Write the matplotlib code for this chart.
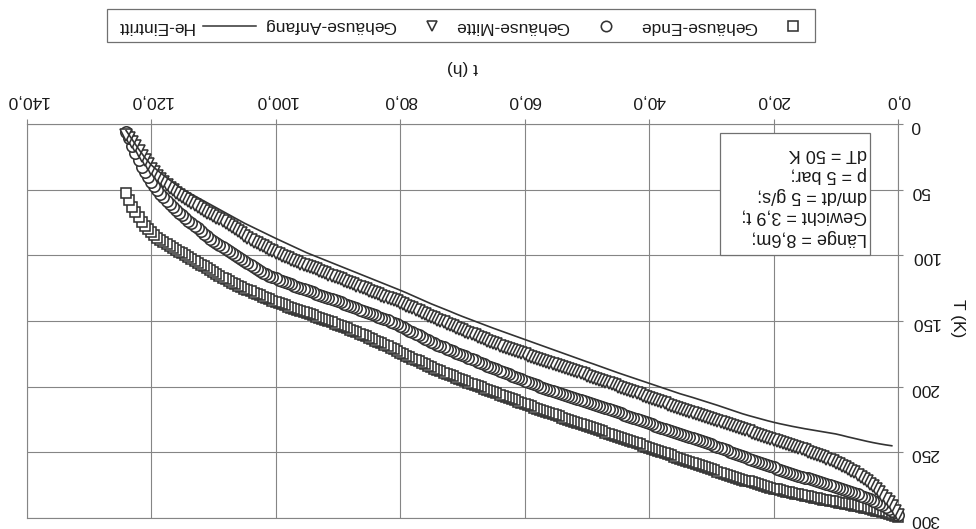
import matplotlib
matplotlib.use("Agg")
import matplotlib.pyplot as plt
from matplotlib.lines import Line2D
from matplotlib.patches import Rectangle

plt.rcParams['font.family'] = ['Liberation Sans', 'DejaVu Sans']

# ---------------- data (chart is shown rotated by 180 degrees) ----------------
t_hours = [0, 0.5, 1, 1.5, 2, 2.5, 3, 3.5, 4, 4.5,
           5, 5.5, 6, 6.5, 7, 7.5, 8, 8.5, 9, 9.5,
           10, 10.5, 11, 11.5, 12, 12.5, 13, 13.5, 14, 14.5,
           15, 15.5, 16, 16.5, 17, 17.5, 18, 18.5, 19, 19.5,
           20, 20.5, 21, 21.5, 22, 22.5, 23, 23.5, 24, 24.5,
           25, 25.5, 26, 26.5, 27, 27.5, 28, 28.5, 29, 29.5,
           30, 30.5, 31, 31.5, 32, 32.5, 33, 33.5, 34, 34.5,
           35, 35.5, 36, 36.5, 37, 37.5, 38, 38.5, 39, 39.5,
           40, 40.5, 41, 41.5, 42, 42.5, 43, 43.5, 44, 44.5,
           45, 45.5, 46, 46.5, 47, 47.5, 48, 48.5, 49, 49.5,
           50, 50.5, 51, 51.5, 52, 52.5, 53, 53.5, 54, 54.5,
           55, 55.5, 56, 56.5, 57, 57.5, 58, 58.5, 59, 59.5,
           60, 60.5, 61, 61.5, 62, 62.5, 63, 63.5, 64, 64.5,
           65, 65.5, 66, 66.5, 67, 67.5, 68, 68.5, 69, 69.5,
           70, 70.5, 71, 71.5, 72, 72.5, 73, 73.5, 74, 74.5,
           75, 75.5, 76, 76.5, 77, 77.5, 78, 78.5, 79, 79.5,
           80, 80.5, 81, 81.5, 82, 82.5, 83, 83.5, 84, 84.5,
           85, 85.5, 86, 86.5, 87, 87.5, 88, 88.5, 89, 89.5,
           90, 90.5, 91, 91.5, 92, 92.5, 93, 93.5, 94, 94.5,
           95, 95.5, 96, 96.5, 97, 97.5, 98, 98.5, 99, 99.5,
           100, 100.5, 101, 101.5, 102, 102.5, 103, 103.5, 104, 104.5,
           105, 105.5, 106, 106.5, 107, 107.5, 108, 108.5, 109, 109.5,
           110, 110.5, 111, 111.5, 112, 112.5, 113, 113.5, 114, 114.5,
           115, 115.5, 116, 116.5, 117, 117.5, 118, 118.5, 119, 119.5,
           120, 120.5, 121, 121.5, 122, 122.5, 123, 123.5, 124]

T_gehaeuse_ende = [299, 298.3, 297.6, 296.9, 296.2, 295.5, 294.9, 294.3, 293.7, 293.1,
                   292.6, 292.1, 291.6, 291.1, 290.6, 290.1, 289.6, 289.1, 288.7, 288.2,
                   287.8, 287.3, 286.9, 286.4, 286.0, 285.5, 285.0, 284.5, 284.0, 283.5,
                   283.0, 282.5, 282.0, 281.5, 281.0, 280.4, 279.9, 279.3, 278.8, 278.2,
                   277.6, 276.9, 276.3, 275.6, 275.0, 274.3, 273.6, 272.9, 272.2, 271.5,
                   270.8, 270.0, 269.3, 268.5, 267.8, 267.0, 266.2, 265.4, 264.6, 263.8,
                   263.0, 262.2, 261.4, 260.6, 259.8, 258.9, 258.1, 257.2, 256.4, 255.6,
                   254.8, 254.0, 253.2, 252.3, 251.5, 250.6, 249.8, 248.9, 248.1, 247.2,
                   246.4, 245.6, 244.8, 243.9, 243.1, 242.3, 241.5, 240.6, 239.8, 239.0,
                   238.2, 237.3, 236.5, 235.7, 234.9, 234.1, 233.3, 232.5, 231.7, 230.9,
                   230.1, 229.3, 228.5, 227.7, 226.9, 226.1, 225.3, 224.4, 223.6, 222.7,
                   221.9, 221.0, 220.2, 219.3, 218.5, 217.6, 216.8, 215.9, 215.0, 214.1,
                   213.2, 212.3, 211.4, 210.5, 209.6, 208.7, 207.8, 206.9, 206.0, 205.1,
                   204.2, 203.3, 202.4, 201.5, 200.6, 199.7, 198.8, 197.9, 197.0, 196.0,
                   195.1, 194.1, 193.2, 192.2, 191.3, 190.3, 189.3, 188.3, 187.3, 186.2,
                   185.2, 184.1, 183.0, 181.9, 180.8, 179.7, 178.6, 177.4, 176.3, 175.1,
                   174.0, 172.8, 171.7, 170.5, 169.4, 168.2, 167.1, 166.0, 164.9, 163.8,
                   162.8, 161.7, 160.7, 159.7, 158.7, 157.7, 156.7, 155.7, 154.8, 153.8,
                   152.9, 152.0, 151.1, 150.2, 149.3, 148.4, 147.5, 146.6, 145.8, 144.9,
                   144.1, 143.2, 142.4, 141.5, 140.7, 139.8, 139.0, 138.1, 137.2, 136.3,
                   135.4, 134.4, 133.5, 132.5, 131.5, 130.5, 129.5, 128.5, 127.5, 126.4,
                   125.4, 124.3, 123.2, 122.0, 120.9, 119.6, 118.4, 117.1, 115.8, 114.4,
                   113.0, 111.5, 110.0, 108.5, 107.0, 105.5, 104.0, 102.6, 101.2, 99.8,
                   98.5, 97.1, 95.8, 94.4, 93.0, 91.5, 90.0, 88.3, 86.6, 84.6,
                   82.5, 80.0, 77.5, 74.3, 71.0, 67.0, 63.0, 58.0, 52.5]

T_gehaeuse_mitte = [297.5, 295.8, 294.3, 292.9, 291.5, 290.2, 289.0, 287.9, 286.8, 285.8,
                    284.8, 283.8, 282.9, 282.0, 281.1, 280.2, 279.4, 278.6, 277.8, 277.0,
                    276.3, 275.5, 274.8, 274.1, 273.4, 272.7, 272.0, 271.3, 270.6, 269.9,
                    269.2, 268.5, 267.8, 267.0, 266.3, 265.5, 264.8, 264.0, 263.2, 262.4,
                    261.5, 260.6, 259.8, 259.0, 258.1, 257.2, 256.4, 255.5, 254.7, 253.8,
                    253.0, 252.1, 251.2, 250.3, 249.4, 248.5, 247.6, 246.7, 245.8, 244.9,
                    244.0, 243.2, 242.4, 241.6, 240.8, 240.0, 239.2, 238.4, 237.6, 236.8,
                    236.0, 235.2, 234.4, 233.6, 232.8, 232.0, 231.2, 230.4, 229.6, 228.8,
                    228.0, 227.1, 226.3, 225.4, 224.6, 223.7, 222.9, 222.0, 221.2, 220.3,
                    219.5, 218.7, 217.9, 217.1, 216.3, 215.5, 214.7, 213.9, 213.1, 212.3,
                    211.5, 210.7, 210.0, 209.2, 208.5, 207.7, 207.0, 206.2, 205.5, 204.7,
                    204.0, 203.2, 202.4, 201.6, 200.8, 199.9, 199.1, 198.2, 197.3, 196.4,
                    195.5, 194.5, 193.6, 192.6, 191.7, 190.7, 189.8, 188.8, 187.9, 186.9,
                    186.0, 185.0, 184.0, 183.0, 182.0, 181.0, 180.0, 179.0, 178.0, 177.0,
                    176.0, 175.0, 174.0, 173.0, 172.0, 171.0, 170.0, 169.0, 168.0, 167.0,
                    166.0, 164.8, 163.5, 162.3, 161.0, 159.8, 158.5, 157.3, 156.0, 154.8,
                    153.5, 152.5, 151.5, 150.5, 149.5, 148.5, 147.5, 146.6, 145.7, 144.8,
                    144.0, 143.1, 142.2, 141.3, 140.4, 139.5, 138.6, 137.7, 136.8, 135.9,
                    135.0, 134.2, 133.3, 132.5, 131.6, 130.8, 129.9, 129.1, 128.2, 127.4,
                    126.5, 125.6, 124.7, 123.9, 123.0, 122.1, 121.2, 120.3, 119.4, 118.5,
                    117.5, 116.5, 115.5, 114.4, 113.2, 111.9, 110.5, 109.1, 107.7, 106.2,
                    104.6, 103.0, 101.3, 99.8, 98.2, 96.7, 95.2, 93.7, 92.2, 90.7,
                    89.1, 87.3, 85.5, 83.5, 81.5, 79.5, 77.5, 75.5, 73.5, 71.5,
                    69.5, 67.4, 65.3, 63.1, 60.8, 58.4, 55.8, 53.1, 50.3, 47.4,
                    44.2, 40.7, 36.8, 32.4, 27.5, 22.2, 16.5, 11.0, 6.0]

T_gehaeuse_anfang = [298, 294.3, 291, 288.1, 285.5, 282.9, 280.5, 278.2, 276, 274,
                     272, 270.2, 268.5, 266.9, 265.3, 263.9, 262.5, 261.3, 260.2, 259.1,
                     258, 256.9, 255.8, 254.8, 253.8, 252.9, 252, 251.1, 250.3, 249.4,
                     248.6, 247.7, 246.9, 246.1, 245.3, 244.5, 243.7, 242.9, 242.1, 241.3,
                     240.5, 239.7, 238.9, 238.1, 237.3, 236.5, 235.7, 234.9, 234.1, 233.3,
                     232.5, 231.7, 230.9, 230.1, 229.3, 228.5, 227.7, 226.9, 226.1, 225.3,
                     224.5, 223.7, 223.0, 222.2, 221.5, 220.7, 220.0, 219.2, 218.5, 217.7,
                     217.0, 216.1, 215.3, 214.4, 213.6, 212.7, 211.9, 211.0, 210.2, 209.3,
                     208.5, 207.6, 206.8, 205.9, 205.1, 204.2, 203.4, 202.5, 201.7, 200.8,
                     200.0, 199.1, 198.3, 197.4, 196.6, 195.7, 194.9, 194.0, 193.2, 192.3,
                     191.5, 190.7, 189.9, 189.1, 188.3, 187.5, 186.7, 185.9, 185.1, 184.3,
                     183.5, 182.7, 181.9, 181.1, 180.3, 179.5, 178.7, 177.9, 177.1, 176.3,
                     175.5, 174.6, 173.8, 172.9, 172.1, 171.2, 170.4, 169.5, 168.7, 167.8,
                     167.0, 166.0, 165.0, 164.0, 163.0, 162.0, 161.0, 160.0, 159.0, 158.0,
                     157.0, 156.0, 155.0, 154.0, 153.0, 152.0, 151.0, 150.0, 149.0, 148.0,
                     147.0, 145.9, 144.8, 143.7, 142.6, 141.5, 140.4, 139.3, 138.2, 137.1,
                     136.0, 135.1, 134.2, 133.3, 132.4, 131.5, 130.6, 129.7, 128.8, 127.9,
                     127.0, 126.0, 125.1, 124.1, 123.2, 122.2, 121.3, 120.3, 119.4, 118.4,
                     117.5, 116.5, 115.6, 114.6, 113.6, 112.6, 111.7, 110.7, 109.8, 108.9,
                     108.0, 107.2, 106.3, 105.3, 104.3, 103.3, 102.3, 101.3, 100.2, 99.1,
                     98.0, 96.8, 95.6, 94.4, 93.2, 92.0, 90.8, 89.6, 88.4, 86.7,
                     85.0, 83.2, 81.5, 79.8, 78.2, 76.7, 75.2, 73.9, 72.6, 71.3,
                     70.0, 68.7, 67.5, 66.3, 65.0, 63.5, 62.0, 60.5, 59.0, 57.4,
                     55.8, 54.1, 52.3, 50.4, 48.5, 46.4, 44.3, 41.9, 39.5, 36.8,
                     34.0, 30.8, 27.5, 24.0, 20.5, 17.0, 13.5, 10.7, 8.0]

t_he_hours = [1, 2, 3, 4, 5, 6, 7, 8, 9, 10, 11, 12, 13, 14, 15, 16, 17, 18, 19, 20,
              21, 22, 23, 24, 25, 26, 27, 28, 29, 30, 31, 32, 33, 34, 35, 36, 37, 38, 39, 40,
              41, 42, 43, 44, 45, 46, 47, 48, 49, 50, 51, 52, 53, 54, 55, 56, 57, 58, 59, 60,
              61, 62, 63, 64, 65, 66, 67, 68, 69, 70, 71, 72, 73, 74, 75, 76, 77, 78, 79, 80,
              81, 82, 83, 84, 85, 86, 87, 88, 89, 90, 91, 92, 93, 94, 95, 96, 97, 98, 99, 100,
              101, 102, 103, 104, 105, 106, 107, 108, 109, 110, 111, 112, 113, 114, 115, 116,
              117, 118, 119, 120, 121, 122, 123, 124]

T_he_eintritt = [245, 244.3, 243.5, 242.6, 241.6, 240.5, 239.4, 238.3, 237.1,
                 236, 235.2, 234.4, 233.6, 232.8, 232, 231.1, 230.2, 229.2, 228.2,
                 227.1, 225.9, 224.6, 223.3, 222, 220.6, 219, 217.4, 215.8, 214.2,
                 212.7, 211.2, 209.7, 208.2, 206.8, 205.4, 203.8, 202.2, 200.6, 199,
                 197.4, 195.8, 194.2, 192.6, 191, 189.4, 187.7, 186, 184.3, 182.6,
                 181, 179.3, 177.6, 175.9, 174.2, 172.5, 170.8, 169.1, 167.4, 165.7,
                 164, 162.3, 160.6, 158.9, 157.2, 155.5, 153.7, 151.9, 150.1, 148.3,
                 146.5, 144.6, 142.6, 140.7, 138.8, 136.9, 134.8, 132.7, 130.6, 128.5,
                 126.5, 124.6, 122.7, 120.8, 118.9, 117, 115.1, 113.2, 111.3, 109.4,
                 107.5, 105.6, 103.7, 101.8, 99.9, 98, 95.8, 93.6, 91.4, 89.2,
                 87, 84.7, 82.4, 80.1, 77.8, 75.5, 72.9, 70.3, 67.7, 65.1,
                 62.5, 59.9, 57.3, 54.7, 52.1, 49.5, 46.1, 42.6, 39, 35.2,
                 31, 25.5, 19, 12, 5]

x_ticks = [0, 20, 40, 60, 80, 100, 120, 140]
x_tick_labels = ['0,0', '20,0', '40,0', '60,0', '80,0', '100,0', '120,0', '140,0']
y_ticks = [0, 50, 100, 150, 200, 250, 300]
y_tick_labels = ['0', '50', '100', '150', '200', '250', '300']

legend_labels = ['Gehäuse-Ende', 'Gehäuse-Mitte', 'Gehäuse-Anfang', 'He-Eintritt']
info_text = 'Länge = 8,6m;\nGewicht = 3,9 t;\ndm/dt = 5 g/s;\np = 5 bar;\ndT = 50 K'

# ---------------- figure ----------------
W, H = 976, 529
fig = plt.figure(figsize=(W / 100, H / 100), dpi=100)
fig.patch.set_facecolor('white')


def fx(px):
    return px / W


def fy(py):
    return 1 - py / H


ax_l, ax_r, ax_t, ax_b = 26.5, 898, 124, 518
ax = fig.add_axes([fx(ax_l), fy(ax_b), (ax_r - ax_l) / W, (ax_b - ax_t) / H])
ax.set_xlim(140, 0)
ax.set_ylim(300, 0)

grid_c = '#858585'
edge_c = '#333333'
text_c = '#1a1a1a'

ax.set_xticks(x_ticks)
ax.set_xticklabels(x_tick_labels, rotation=180)
ax.set_yticks(y_ticks)
ax.set_yticklabels(y_tick_labels, rotation=180)
ax.xaxis.tick_top()
ax.yaxis.tick_right()
ax.tick_params(axis='x', direction='out', length=3.5, width=0.8, color=grid_c,
               pad=8, labelsize=12.5, labelcolor=text_c)
ax.tick_params(axis='y', direction='out', length=3.5, width=0.8, color=grid_c,
               pad=5.5, labelsize=12.5, labelcolor=text_c)
ax.grid(True, color=grid_c, lw=0.8)
ax.set_axisbelow(True)
for s in ax.spines.values():
    s.set_color(grid_c)
    s.set_linewidth(0.8)

mk = dict(markerfacecolor='white', markeredgecolor=edge_c, markeredgewidth=1.15,
          linestyle='none', clip_on=False)
ax.plot(t_hours, T_gehaeuse_ende, marker='s', markersize=7.6, zorder=3, **mk)
ax.plot(t_hours, T_gehaeuse_mitte, marker='o', markersize=8.2, zorder=3, **mk)
ax.plot(t_hours, T_gehaeuse_anfang, marker='v', markersize=8.2, zorder=3, **mk)
ax.plot(t_he_hours, T_he_eintritt, color=edge_c, lw=1.2, zorder=4)

# axis titles (rotated by 180 degrees)
fig.text(fx(463), fy(68), 't (h)', rotation=180, ha='center', va='center',
         fontsize=12.5, color=text_c)
fig.text(fx(957), fy(318), 'T (K)', rotation=270, ha='center', va='center',
         fontsize=12.5, color=text_c)

# info box
fig.add_artist(Rectangle((fx(720), fy(255)), (870 - 720) / W, (255 - 133) / H,
                         transform=fig.transFigure, facecolor='white',
                         edgecolor='#707070', lw=0.9, zorder=5))
fig.text(fx(867), fy(195.5), info_text, rotation=180, ha='right', va='center',
         multialignment='left', linespacing=1.3, fontsize=13, color=text_c, zorder=6)

# legend (rotated by 180 degrees)
fig.add_artist(Rectangle((fx(107), fy(42)), (815 - 107) / W, (42 - 9) / H,
                         transform=fig.transFigure, facecolor='white',
                         edgecolor='#707070', lw=0.9))
ly = fy(26)
lmk = dict(mk)
fig.add_artist(Line2D([fx(793)], [ly], marker='s', markersize=7.5,
                      transform=fig.transFigure, **lmk))
fig.text(fx(699), ly, legend_labels[0], rotation=180, ha='center', va='center',
         fontsize=12.5, color=text_c)
fig.add_artist(Line2D([fx(606)], [ly], marker='o', markersize=7.5,
                      transform=fig.transFigure, **lmk))
fig.text(fx(512), ly, legend_labels[1], rotation=180, ha='center', va='center',
         fontsize=12.5, color=text_c)
fig.add_artist(Line2D([fx(432)], [ly], marker='v', markersize=7.5,
                      transform=fig.transFigure, **lmk))
fig.text(fx(330), ly, legend_labels[2], rotation=180, ha='center', va='center',
         fontsize=12.5, color=text_c)
fig.add_artist(Line2D([fx(203), fx(256)], [ly, ly], color=edge_c, lw=1.1,
                      transform=fig.transFigure))
fig.text(fx(155), ly, legend_labels[3], rotation=180, ha='center', va='center',
         fontsize=12.5, color=text_c)

fig.savefig('out.png', dpi=100, facecolor='white')
